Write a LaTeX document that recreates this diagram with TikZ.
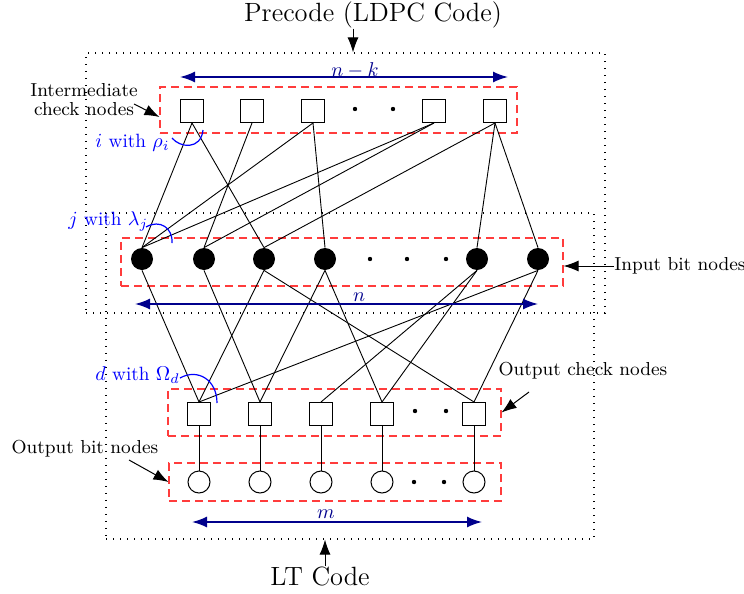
\documentclass[tikz,border=0pt]{standalone}
\usetikzlibrary{arrows.meta}
\definecolor{navyb}{RGB}{0,0,140}
\definecolor{dashred}{RGB}{255,60,60}
\begin{document}
\begin{tikzpicture}[x=0.5pt,y=-0.5pt,
  chk/.style={draw,line width=0.5pt,minimum size=11.5pt,inner sep=0pt,fill=white},
  inb/.style={circle,fill=black,minimum size=11pt,inner sep=0pt},
  outb/.style={circle,draw,line width=0.5pt,minimum size=11pt,inner sep=0pt,fill=white},
  edge/.style={line width=0.45pt},
  grp/.style={draw=dashred,dash pattern=on 4pt off 2.5pt,line width=0.55pt,inner sep=0pt},
  zone/.style={draw,dash pattern=on 0.6pt off 2.9pt,line width=0.6pt,inner sep=0pt},
  dim/.style={navyb,line width=0.8pt,{Latex[length=7.5pt,width=5.5pt]}-{Latex[length=7.5pt,width=5.5pt]}},
  ptr/.style={line width=0.5pt,-{Latex[length=7.5pt,width=5.5pt]}},
  note/.style={font=\fontsize{9.4}{9.5}\selectfont,inner sep=0pt},
  blab/.style={blue,font=\fontsize{9.6}{11}\selectfont,inner sep=0pt},
  big/.style={font=\fontsize{13.2}{15}\selectfont,inner sep=0pt},
  arcb/.style={blue,line width=0.6pt},
  sdot/.style={circle,fill=black,minimum size=2.2pt,inner sep=0pt}
]
\useasboundingbox (0,0) rectangle (744,594);

% zones
\node[zone,minimum width=259.5pt,minimum height=130pt] (outer) at (345.5,183) {};
\node[zone,minimum width=244pt,minimum height=163pt] (inner) at (350,376) {};

% group boxes
\node[grp,minimum width=178.5pt,minimum height=23pt] (gC) at (338.5,110) {};
\node[grp,minimum width=221pt,minimum height=24pt] (gI) at (342,262) {};
\node[grp,minimum width=166.5pt,minimum height=23.5pt] (gO) at (334.5,412.5) {};
\node[grp,minimum width=166pt,minimum height=19pt] (gB) at (335,482) {};

% intermediate check nodes
\foreach \n/\x in {1/192,2/252,3/313,4/434,5/495}
  \node[chk] (c\n) at (\x,111) {};
\node[sdot] (cd1) at (355,109) {};
\node[sdot] (cd2) at (393,109) {};

% input bit nodes
\foreach \n/\x in {1/142,2/204,3/264,4/325,5/477,6/538}
  \node[inb] (i\n) at (\x,259) {};
\node[sdot] (id1) at (370,259) {};
\node[sdot] (id2) at (407,259) {};
\node[sdot] (id3) at (446,259) {};

% output check nodes and output bit nodes
\foreach \n/\x in {1/199,2/260,3/321,4/382,5/474}{
  \node[chk] (o\n) at (\x,414) {};
  \node[outb] (b\n) at (\x,482) {};
}
\node[sdot] (od1) at (415,411) {};
\node[sdot] (od2) at (446,411) {};
\node[sdot] (bd1) at (414,482) {};
\node[sdot] (bd2) at (444,482) {};

% edges check -> input
\foreach \a/\b in {1/1,1/3,2/2,3/1,3/4,4/1,4/2,5/3,5/5,5/6}
  \draw[edge] (c\a.south) -- (i\b.north);
% edges input -> output check
\foreach \a/\b in {1/1,2/2,3/1,3/5,4/2,4/4,5/3,5/4,6/1,6/5}
  \draw[edge] (i\a.south) -- (o\b.north);
% output check -> output bit
\foreach \n in {1,...,5}
  \draw[edge] (o\n.south) -- (b\n.north);

% dimension arrows
\coordinate (nk1) at (180,77); \coordinate (nk2) at (508,77);
\draw[dim] (nk1) -- (nk2);
\node[blab,navyb] (nkl) at (355,70) {$n-k$};
\coordinate (n1) at (135,304); \coordinate (n2) at (538,304);
\draw[dim] (n1) -- (n2);
\node[blab,navyb] (nl) at (359,297) {$n$};
\coordinate (m1) at (192,522); \coordinate (m2) at (482,522);
\draw[dim] (m1) -- (m2);
\node[blab,navyb] (ml) at (326,514) {$m$};

% degree labels and arcs
\node[blab,anchor=base west] (il) at (95,147) {$i$ with $\rho_i$};
\draw[arcb] (172,138) .. controls (180,148) and (201,150) .. (203,130);
\node[blab,anchor=base west] (jl) at (68,225) {$j$ with $\lambda_j$};
\draw[arcb] (146,227) .. controls (160,219) and (173,228) .. (172,243);
\node[blab,anchor=base west] (dl) at (95,380) {$d$ with $\Omega_d$};
\draw[arcb] (180,378) .. controls (198,368) and (217,380) .. (217,403);

% side labels
\node[note,align=center] (intl) at (84,100) {Intermediate\\check nodes};
\draw[ptr] ([shift={(-4,4)}]intl.east) -- ([yshift=-3.5pt]gC.west);
\node[note] (inl) at (680,266) {Input bit nodes};
\draw[ptr] (inl.west) -- (gI.east |- inl.west);
\node[note] (ocl) at (583,371) {Output check nodes};
\coordinate (ocs) at (529,392);
\draw[ptr] (ocs) -- (gO.east);
\node[note] (obl) at (85,449) {Output bit nodes};
\coordinate (obs) at (129,460);
\draw[ptr] (obs) -- (gB.west);

% titles
\node[big] (pre) at (373,15) {Precode (LDPC Code)};
\coordinate (pa) at (353,0);
\draw[ptr] (pre.south -| pa) -- (pa |- outer.north);
\node[big] (lt) at (320,576) {LT Code};
\coordinate (pb) at (325,0);
\draw[ptr] (lt.north -| pb) -- (pb |- inner.south);
\end{tikzpicture}
\end{document}
